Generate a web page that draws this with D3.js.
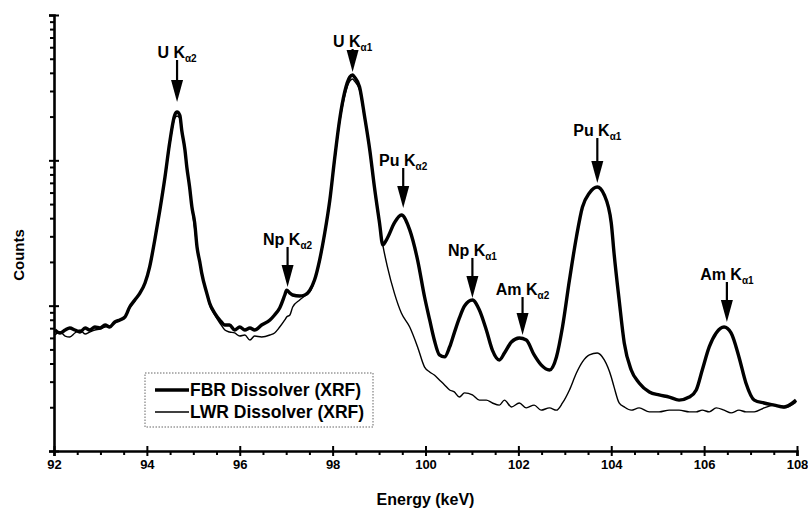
<!DOCTYPE html>
<html><head><meta charset="utf-8">
<script src="https://cdn.jsdelivr.net/npm/d3@7"></script>
<style>body{margin:0;background:#fff}svg{display:block}</style>
</head><body><svg id="c" width="808" height="511"></svg>
<script>
// ---- data ----
const energy = [92.02,92.13,92.24,92.34,92.45,92.56,92.67,92.77,92.88,92.99,
93.10,93.20,93.31,93.42,93.53,93.63,93.74,93.85,93.96,94.06,
94.17,94.28,94.39,94.49,94.60,94.65,94.71,94.75,94.82,94.86,
94.92,94.97,95.03,95.08,95.14,95.18,95.29,95.35,95.46,95.57,
95.68,95.78,95.89,96.00,96.11,96.22,96.32,96.47,96.65,96.75,
96.86,96.97,97.01,97.08,97.14,97.29,97.40,97.51,97.61,97.72,
97.83,97.94,98.04,98.15,98.26,98.37,98.43,98.47,98.58,98.69,
98.80,98.90,99.01,99.08,99.18,99.33,99.48,99.66,99.83,99.98,
100.09,100.19,100.30,100.41,100.52,100.62,100.73,100.84,101.01,101.16,
101.31,101.44,101.59,101.70,101.85,102.02,102.17,102.34,102.49,102.67,
102.82,102.95,103.10,103.25,103.38,103.53,103.70,103.85,104.00,104.06,
104.17,104.28,104.43,104.60,104.82,105.03,105.25,105.46,105.68,105.83,
105.96,106.11,106.26,106.43,106.58,106.75,106.90,107.08,107.29,107.51,
107.72,107.98];
const fbrCounts = [68.0,64.9,68.0,70.2,68.0,65.9,70.2,68.0,71.3,70.2,
73.6,71.3,77.2,79.7,83.6,97.9,109.4,122,143.2,185,
283,455,768,1316,2050,2150,2040,1617,1178,900,
655,477,371,253,199.8,168,122,104.3,89.0,79.7,
73.6,73.6,68.0,71.3,68.0,70.2,68.0,73.6,79.7,86.3,
96.4,118.4,128,122,118.4,116.6,118.4,128,150,206,
316,533,1005,1895,2953,3745,3866,3745,3196,1987,
1178,655,371,262,292,371,421,332,206,114.7,
79.7,58.0,45.8,44.4,52.0,65.0,82.3,99.5,109.4,93.4,
68.0,49.5,42.3,47.2,56.2,59.9,58.0,45.8,39.1,36.1,
44.4,71.3,150,297,477,596,655,577,371,230,
109.4,55.4,36.1,29.4,25.5,24.3,23.5,22.4,23.5,26.3,
36.1,52.0,64.9,71.3,64.9,44.4,29.4,22.4,21.4,20.7,
20.1,22.4];
const lwrCounts = [62.8,65.9,61.8,60.9,64.9,68.0,63.8,65.9,68.0,69.1,
71.3,72.4,76.0,79.7,83.6,96.4,107.7,122,143.2,181.6,
278.6,448,744,1255,1950,2019,1940,1567,1160,886,
645,470,337,249,196.7,165,120.3,101,86.3,76.0,
68.0,65.9,64.9,61.8,62.8,58.0,61.8,60.9,62.8,64.9,
71.3,79.7,83.6,86.3,97.9,109.4,116.6,124.2,147.8,199.8,
306.4,517,958.7,1807,2772,3515,3629,3515,3048,1925,
1141,635,359,262,185,122,89.0,71.3,52.0,37.8,
35.0,33.3,30.8,28.5,26.3,25.5,23.5,25.1,24.3,22.4,
22.4,21.4,20.7,22.4,20.1,21.4,19.8,20.7,19.1,19.8,
19.1,21.4,26.3,34.4,41.0,45.8,47.2,42.3,32.3,27.6,
21.4,20.1,19.1,19.8,18.6,18.6,19.1,19.1,18.6,18.6,
19.1,18.6,19.8,19.1,18.3,19.1,18.6,18.6,19.8,20.7,
19.8,21.7];
const seriesNames = ["FBR Dissolver (XRF)", "LWR Dissolver (XRF)"];
const xTickValues = [92,94,96,98,100,102,104,106,108];
const yMajorTicks = [10,100,1000,10000];
const peakElement = ["U K","U K","Pu K","Np K","Np K","Am K","Pu K","Am K"];
const peakLine = ["α2","α1","α2","α2","α1","α2","α1","α1"];
const peakEnergy = [94.65,98.43,99.52,97.03,101.01,102.09,103.70,106.49];
const peakTipCounts = [2520,4055,470,134.5,113,62.8,698,77.2];

// ---- layout ----
const svg = d3.select("#c");
const x = d3.scaleLinear().domain([92,108]).range([54,797]);
const y = d3.scaleLog().domain([10,10000]).range([451,15]);
const font = "'Liberation Sans', Arial, sans-serif";

const fbr = energy.map((e,i)=>[e,fbrCounts[i]]);
const lwr = energy.map((e,i)=>[e,lwrCounts[i]]);
const line = d3.line().x(d=>x(d[0])).y(d=>y(d[1])).curve(d3.curveMonotoneX);

svg.append("path").datum(lwr).attr("d",line).attr("fill","none").attr("stroke","#000").attr("stroke-width",1.4).attr("stroke-linejoin","round");
svg.append("path").datum(fbr).attr("d",line).attr("fill","none").attr("stroke","#000").attr("stroke-width",3.4).attr("stroke-linejoin","round");

// x axis
const xMinor = d3.range(92.5,108,0.5).filter(v=>v%2!==0);
const gx = svg.append("g").attr("transform",`translate(0,${y(10)})`);
gx.call(d3.axisBottom(x).tickValues(xTickValues).tickSize(5).tickPadding(4).tickFormat(d3.format("d")));
gx.append("g").call(d3.axisTop(x).tickValues(xTickValues).tickSize(5).tickFormat(""));
gx.append("g").call(d3.axisBottom(x).tickValues(xMinor).tickSize(4).tickFormat(""));
// y axis
const yMinor = [];
[10,100,1000].forEach(b=>{for(let k=2;k<=9;k++) yMinor.push(b*k);});
const gy = svg.append("g").attr("transform",`translate(${x(92)},0)`);
gy.call(d3.axisLeft(y).tickValues(yMajorTicks).tickSize(5).tickFormat(""));
gy.append("g").call(d3.axisRight(y).tickValues(yMajorTicks).tickSize(5).tickFormat(""));
gy.append("g").call(d3.axisLeft(y).tickValues(yMinor).tickSize(4).tickFormat(""));

svg.selectAll(".domain").attr("stroke","#000").attr("stroke-width",2.6);
svg.selectAll(".tick line").attr("stroke","#000").attr("stroke-width",2);
gx.selectAll("g > g > .domain").remove();
gy.selectAll("g > g > .domain").remove();
gx.selectAll(".tick text").attr("font-family",font).attr("font-size",13).attr("font-weight","bold").attr("fill","#000");

// axis titles
svg.append("text").attr("x",(x(92)+x(108))/2).attr("y",505).attr("text-anchor","middle")
  .attr("font-family",font).attr("font-size",16).attr("font-weight","bold").text("Energy (keV)");
svg.append("text").attr("transform","translate(24,255) rotate(-90)").attr("text-anchor","middle")
  .attr("font-family",font).attr("font-size",15).attr("font-weight","bold").text("Counts");

// peak annotations
const arrowLen = [44,25,42,42,42,40,47,42];
const headH = 22, headW = 12;
peakElement.forEach((el,i)=>{
  const px = x(peakEnergy[i]);
  const tip = y(peakTipCounts[i]);
  const top = tip - arrowLen[i];
  const g = svg.append("g");
  g.append("line").attr("x1",px).attr("x2",px).attr("y1",top+2).attr("y2",tip-headH+2)
    .attr("stroke","#000").attr("stroke-width",2.2);
  g.append("path").attr("d",`M${px-headW/2},${tip-headH} L${px+headW/2},${tip-headH} L${px},${tip} Z`).attr("fill","#000");
  const t = g.append("text").attr("x",px).attr("y",top).attr("text-anchor","middle")
    .attr("font-family",font).attr("font-size",16).attr("font-weight","bold");
  t.append("tspan").text(el);
  t.append("tspan").attr("font-size",10).attr("dy",4).text(peakLine[i]);
});

// legend
const lg = svg.append("g");
lg.append("rect").attr("x",145).attr("y",373).attr("width",228).attr("height",54)
  .attr("fill","#fff").attr("stroke","#666").attr("stroke-width",1).attr("stroke-dasharray","1.5,1.5");
[[390,3.4],[412,1.4]].forEach((r,i)=>{
  lg.append("line").attr("x1",155).attr("x2",189).attr("y1",r[0]).attr("y2",r[0]).attr("stroke","#000").attr("stroke-width",r[1]);
  lg.append("text").attr("x",190).attr("y",r[0]+6).attr("font-family",font).attr("font-size",17.5).attr("font-weight","bold").text(seriesNames[i]);
});
</script></body></html>
